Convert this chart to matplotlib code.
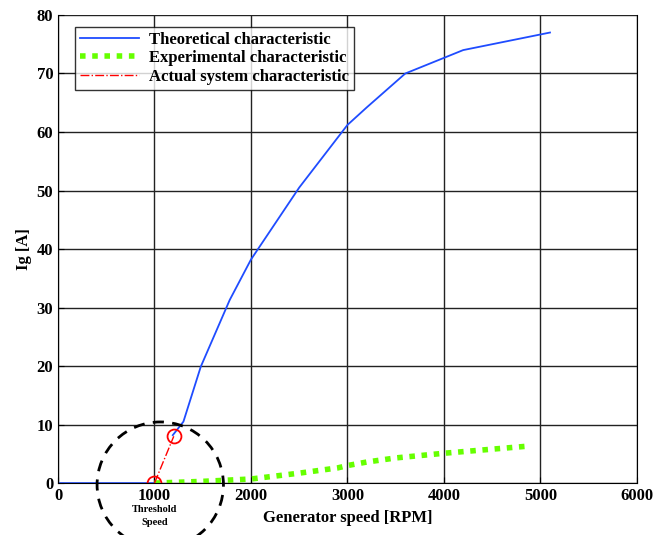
import numpy as np
import matplotlib
matplotlib.use('Agg')
import matplotlib.pyplot as plt
from matplotlib.patches import Ellipse

# Dati (nan = interruzione della linea teorica)
speed_theo = [0, 1000, np.nan, 1190, 1300, 1480, 1780, 2000, 2500, 3000, 3200, 3600, 4200, 5100]
ig_theo = [0, 0, np.nan, 8.2, 10.5, 19.9, 31.3, 38.2, 50.5, 61.2, 64.2, 70.0, 74.0, 77.0]

speed_exp = [1000, 1500, 2000, 2500, 2900, 3000, 3200, 3500, 4000, 4500, 4860]
ig_exp = [0.0, 0.3, 0.7, 1.7, 2.6, 3.0, 3.6, 4.3, 5.1, 5.8, 6.3]

speed_act = [1000, 1200]
ig_act = [0.0, 8.0]

xticks = [0, 1000, 2000, 3000, 4000, 5000, 6000]
yticks = [0, 10, 20, 30, 40, 50, 60, 70, 80]

plt.rcParams['font.family'] = ['Liberation Serif', 'DejaVu Serif']
plt.rcParams['font.weight'] = 'bold'

fig = plt.figure(figsize=(6.63, 5.35), dpi=100)
ax = fig.add_axes([0.0875, 0.097, 0.873, 0.875])

ax.plot(speed_theo, ig_theo, color='#1f4cff', lw=1.3, label='Theoretical characteristic')
ax.plot(speed_exp, ig_exp, color='#66ff00', lw=4, linestyle=(0, (1, 1.2)),
        label='Experimental characteristic')
ax.plot(speed_act, ig_act, color='red', lw=1, linestyle='-.',
        label='Actual system characteristic')
ax.plot(speed_act, ig_act, 'o', mfc='none', mec='red', ms=10, mew=1.3)

# Cerchio tratteggiato attorno alla velocità di soglia
circ = Ellipse((1060, -0.3), 1310, 21.5, fill=False, ec='black', lw=2,
               linestyle=(0, (4, 3)), clip_on=False, zorder=5)
ax.add_patch(circ)
ax.text(1000, -3.8, 'Threshold\nSpeed', ha='center', va='top', fontsize=7.5,
        fontweight='bold', linespacing=1.5)

ax.set_xlim(0, 6000)
ax.set_ylim(0, 80)
ax.set_xticks(xticks)
ax.set_yticks(yticks)
ax.grid(True, color='#222222', lw=1)
ax.set_axisbelow(True)
ax.spines['top'].set_visible(False)
ax.tick_params(direction='in', labelsize=12, length=4)
for lab in ax.get_xticklabels() + ax.get_yticklabels():
    lab.set_fontweight('bold')

ax.set_xlabel('Generator speed [RPM]', fontsize=12, fontweight='bold', labelpad=4)
ax.set_ylabel('Ig [A]', fontsize=12, fontweight='bold', labelpad=3)

leg = ax.legend(loc='upper left', bbox_to_anchor=(0.03, 0.975), fontsize=12,
                frameon=True, fancybox=False, edgecolor='black', handlelength=3.5,
                borderpad=0.3, labelspacing=0.15, handletextpad=0.6, borderaxespad=0)
leg.get_frame().set_linewidth(1)
for t in leg.get_texts():
    t.set_fontweight('bold')

fig.savefig('out.png', dpi=100)
